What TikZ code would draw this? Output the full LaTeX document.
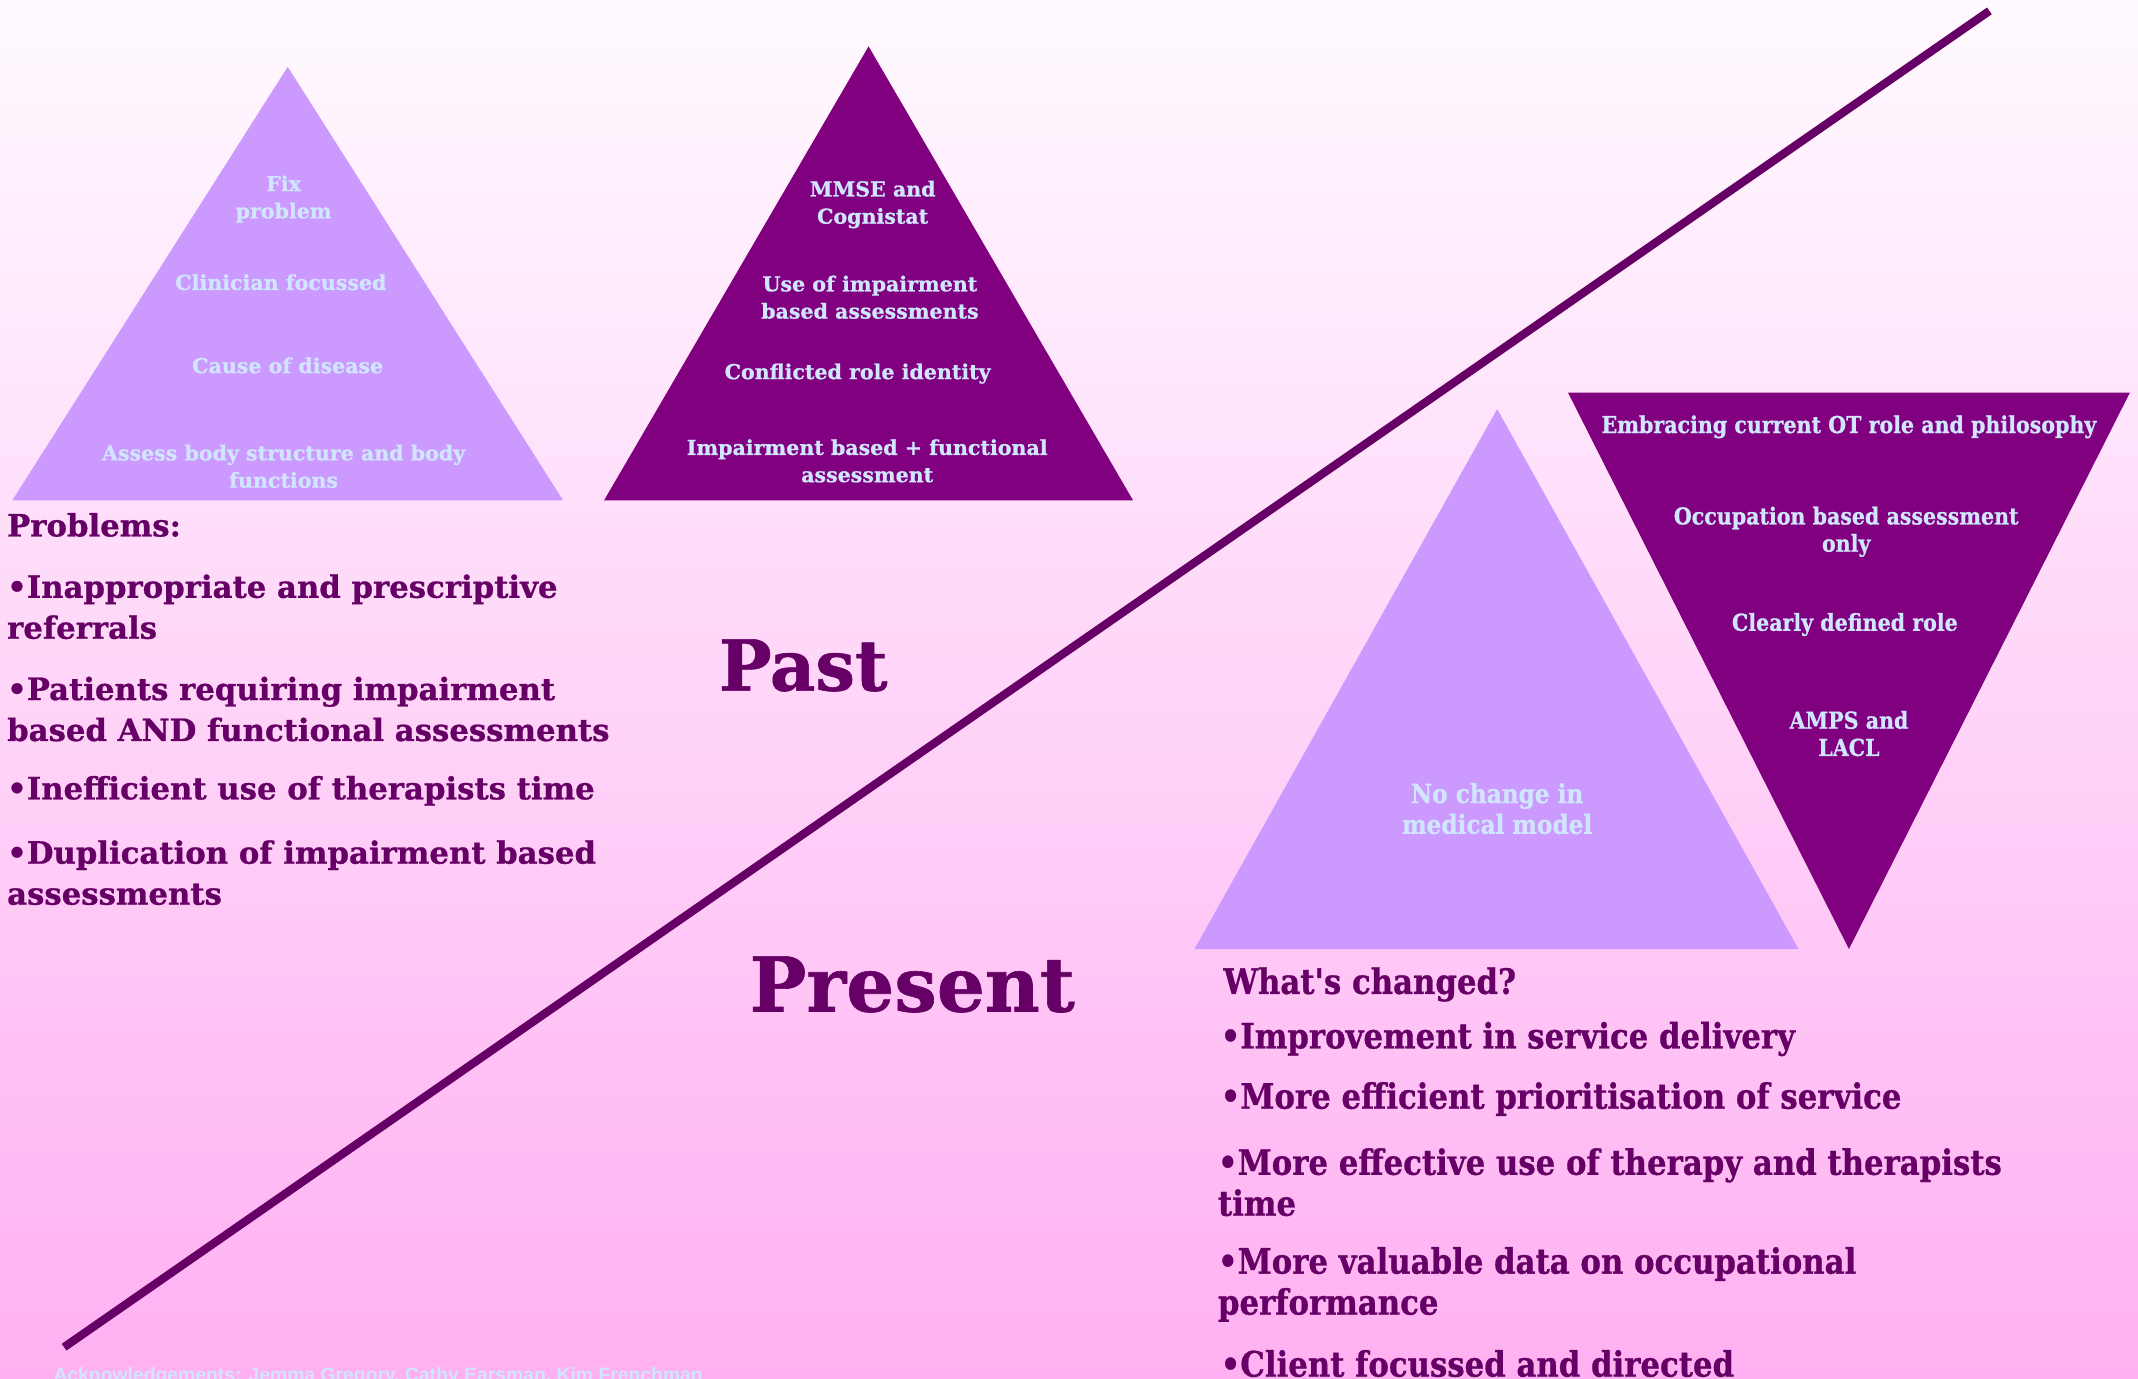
\documentclass[tikz,border=0pt]{standalone}
\usepackage{fontspec}
\setmainfont{DejaVu Serif}[BoldFeatures={FakeBold=0.8}]
\newfontfamily\narrowface{DejaVu Serif}[FakeStretch=0.88, BoldFeatures={FakeBold=0.8}]
\newfontfamily\ackface{Liberation Sans}
\definecolor{plum}{RGB}{102,0,102}
\definecolor{purp}{RGB}{128,0,128}
\definecolor{lilac}{RGB}{204,153,255}
\definecolor{ice}{RGB}{208,230,255}
\definecolor{bgtop}{RGB}{255,250,255}
\definecolor{bgbot}{RGB}{255,176,242}
\tikzset{
  tritext/.style={text=ice, align=center, inner sep=0pt,
    font=\bfseries\fontsize{11.7}{15.5}\selectfont},
  narrowtext/.style={text=ice, align=center, inner sep=0pt,
    font=\narrowface\bfseries\fontsize{13.3}{15.5}\selectfont},
  leftlist/.style={text=plum, align=left, anchor=west, inner sep=0pt,
    font=\bfseries\fontsize{17.5}{23.3}\selectfont},
  rightlist/.style={text=plum, align=left, anchor=west, inner sep=0pt,
    font=\narrowface\bfseries\fontsize{19.9}{23.3}\selectfont},
  bigword/.style={text=plum, inner sep=0pt, font=\bfseries\fontsize{40}{44}\selectfont}
}
\begin{document}
\begin{tikzpicture}[x=0.02727cm,y=-0.02727cm]
  % page and background
  \useasboundingbox (0,0) rectangle (1568,1011);
  \shade[top color=bgtop, bottom color=bgbot] (0,0) rectangle (1568,1011);

  % dividing line
  \coordinate (lineA) at (47,988);
  \coordinate (lineB) at (1459,8);
  \draw[plum, line width=4.7pt] (lineA) -- (lineB);

  % past pyramids
  \fill[lilac] (211,49) -- (413,367) -- (9,367) -- cycle;
  \fill[purp] (637,34) -- (831,367) -- (443,367) -- cycle;
  \node[tritext] (fix) at (208,146) {Fix\\problem};
  \node[tritext] (clin) at (206,207) {Clinician focussed};
  \node[tritext] (cause) at (211,268) {Cause of disease};
  \node[tritext] (assess) at (208,342) {Assess body structure and body\\functions};
  \node[tritext] (mmse) at (640,150) {MMSE and\\Cognistat};
  \node[tritext] (useof) at (638,218) {Use of impairment\\based assessments};
  \node[tritext] (role) at (629,274) {Conflicted role identity};
  \node[tritext] (impf) at (636,338) {Impairment based + functional\\assessment};

  % present pyramids
  \fill[lilac] (1098,300) -- (1319,696) -- (876,696) -- cycle;
  \fill[purp] (1150,288) -- (1562,288) -- (1356,696) -- cycle;
  \node[narrowtext, font=\narrowface\bfseries\fontsize{15}{17.5}\selectfont]
    (nochange) at (1098,593) {No change in\\medical model};
  \node[narrowtext] (embr) at (1356,313) {Embracing current OT role and philosophy};
  \node[narrowtext] (occ) at (1354,390) {Occupation based assessment\\only};
  \node[narrowtext] (clear) at (1353,458) {Clearly defined role};
  \node[narrowtext] (amps) at (1356,538) {AMPS and\\LACL};

  % headings
  \node[bigword] (past) at (589,488) {Past};
  \node[bigword, font=\bfseries\fontsize{43}{45}\selectfont] (present) at (669,722) {Present};

  % problems
  \node[leftlist] (prob) at (5,385) {Problems:};
  \node[leftlist] (p1) at (5,445) {•Inappropriate and prescriptive\\referrals};
  \node[leftlist] (p2) at (5,520) {•Patients requiring impairment\\based AND functional assessments};
  \node[leftlist] (p3) at (5,580) {•Inefficient use of therapists time};
  \node[leftlist] (p4) at (5,640) {•Duplication of impairment based\\assessments};

  % changes
  \node[rightlist] (what) at (897,722) {What's changed?};
  \node[rightlist] (c1) at (895,762) {•Improvement in service delivery};
  \node[rightlist] (c2) at (895,806) {•More efficient prioritisation of service};
  \node[rightlist] (c3) at (893,867) {•More effective use of therapy and therapists\\time};
  \node[rightlist] (c4) at (893,942) {•More valuable data on occupational\\performance};
  \node[rightlist] (c5) at (895,1000) {•Client focussed and directed};

  \node[text=ice, anchor=base west, inner sep=0pt,
    font=\ackface\bfseries\fontsize{11}{12}\selectfont]
    (ack) at (39,1013) {Acknowledgements: Jemma Gregory, Cathy Earsman, Kim Frenchman};
\end{tikzpicture}
\end{document}
